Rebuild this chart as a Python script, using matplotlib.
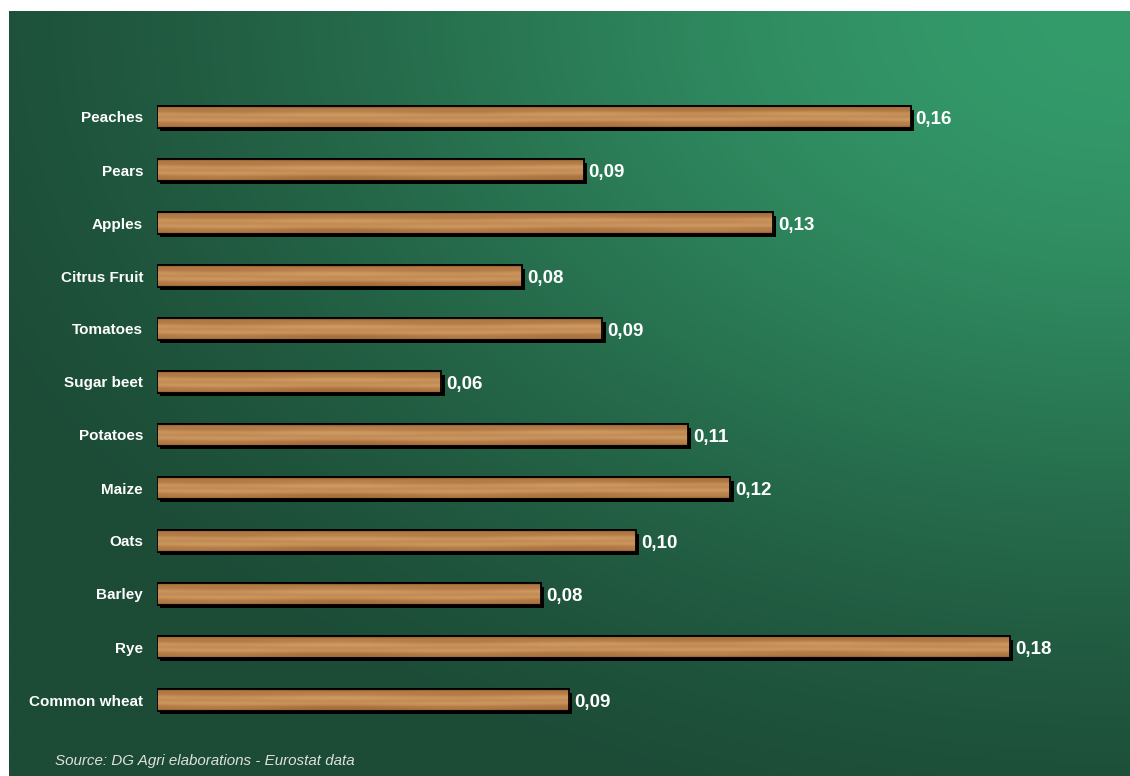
import numpy as np
import matplotlib
matplotlib.use("Agg")
import matplotlib.pyplot as plt
import matplotlib.patheffects as pe
from matplotlib.colors import LinearSegmentedColormap

# data, top to bottom as shown in the chart
crops = ['Peaches', 'Pears', 'Apples', 'Citrus Fruit', 'Tomatoes', 'Sugar beet',
         'Potatoes', 'Maize', 'Oats', 'Barley', 'Rye', 'Common wheat']
values = [0.159, 0.090, 0.130, 0.077, 0.094, 0.060, 0.112, 0.121, 0.101, 0.081, 0.180, 0.087]
value_labels = ['0,16', '0,09', '0,13', '0,08', '0,09', '0,06',
                '0,11', '0,12', '0,10', '0,08', '0,18', '0,09']
source_text = 'Source: DG Agri elaborations - Eurostat data'

plt.rcParams['font.family'] = ['Liberation Sans', 'DejaVu Sans']

W, H = 1130, 776
fig = plt.figure(figsize=(W / 100, H / 100), dpi=100, facecolor='white')

# green gradient background panel (light at top right, dark elsewhere)
bg = fig.add_axes([9 / W, 0, 1 - 9 / W, 1 - 11 / H])
gx, gy = np.meshgrid(np.linspace(0, 1, 500), np.linspace(0, 1, 400))
g = np.exp(-((1 - gx) / 0.78) ** 2 - ((1 - gy) / 0.76) ** 2)
t = np.clip((g - 0.12) / 0.88, 0, 1)
dark = np.array([28, 75, 54]) / 255
light = np.array([52, 155, 107]) / 255
img = dark[None, None, :] + t[..., None] * (light - dark)[None, None, :]
bg.imshow(img, origin='lower', aspect='auto', extent=(0, 1, 0, 1))
bg.axis('off')

# plot axes
px_per_unit = 4739
x0 = 157
xmax = 0.2
top_px, bot_px = 90.5, 726.5
ax = fig.add_axes([x0 / W, 1 - bot_px / H, xmax * px_per_unit / W, (bot_px - top_px) / H])
ax.patch.set_alpha(0)

n = len(crops)
ypos = np.arange(n)[::-1]
h = 0.4

wood = LinearSegmentedColormap.from_list('wood', ['#6e4220', '#945f30', '#b07844', '#c48d56', '#d3a06a'])
for y, v, lab in zip(ypos, values, value_labels):
    ax.barh(y, v, height=h, color='#b07a45', edgecolor='black', linewidth=1.3, zorder=2,
            path_effects=[pe.SimplePatchShadow(offset=(2.3, -2.5), shadow_rgbFace='black', alpha=1),
                          pe.Normal()])
    # wood-like texture: darker edges, lighter middle, faint horizontal grain
    tx, ty = np.meshgrid(np.linspace(0, v * 400, 400), np.linspace(0, 1, 24))
    grain = 0.15 + 0.6 * np.sin(np.pi * ty) ** 0.6 \
        + 0.06 * np.sin(ty * 22 + 0.8 * np.sin(tx * 0.09)) \
        + 0.05 * np.sin(tx * 0.31) * np.sin(ty * 7)
    ax.imshow(grain, cmap=wood, vmin=0.1, vmax=0.9, aspect='auto', origin='lower',
              extent=(0, v, y - h / 2, y + h / 2), zorder=3, interpolation='bilinear')
    ax.barh(y, v, height=h, facecolor='none', edgecolor='black', linewidth=1.3, zorder=4)
    ax.text(v + 0.0011, y - 0.04, lab, color='white', fontsize=13.5, fontweight='bold',
            va='center', ha='left', zorder=5)

ax.set_xlim(0, xmax)
ax.set_ylim(-0.5, n - 0.5)
ax.set_yticks(ypos)
ax.set_yticklabels(crops, color='white', fontsize=11, fontweight='bold')
ax.tick_params(axis='y', length=0, pad=10)
ax.set_xticks([])
for s in ax.spines.values():
    s.set_visible(False)

fig.text(55 / W, 1 - 761 / H, source_text, color='#e0e0e0', fontsize=10.9,
         style='italic', va='center', ha='left')

fig.savefig('out.png', dpi=100, facecolor='white')
